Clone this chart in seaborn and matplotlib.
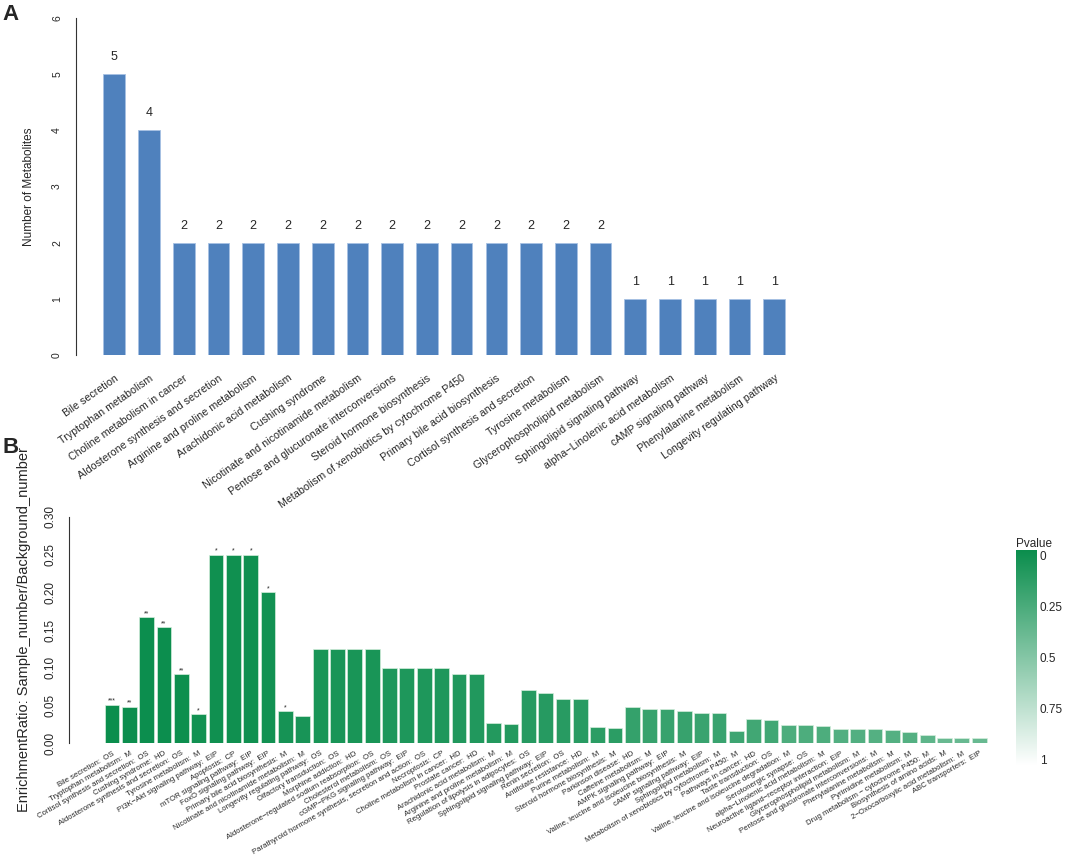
import numpy as np
import pandas as pd
import seaborn as sns
import matplotlib.pyplot as plt
from matplotlib.colors import LinearSegmentedColormap
from matplotlib.ticker import FormatStrFormatter

sns.set_style("white")
plt.rcParams['font.family'] = ['Liberation Sans', 'DejaVu Sans']

# Panel A: number of metabolites per pathway
pathways_a = ["Bile secretion", "Tryptophan metabolism", "Choline metabolism in cancer",
              "Aldosterone synthesis and secretion", "Arginine and proline metabolism",
              "Arachidonic acid metabolism", "Cushing syndrome",
              "Nicotinate and nicotinamide metabolism", "Pentose and glucuronate interconversions",
              "Steroid hormone biosynthesis", "Metabolism of xenobiotics by cytochrome P450",
              "Primary bile acid biosynthesis", "Cortisol synthesis and secretion",
              "Tyrosine metabolism", "Glycerophospholipid metabolism",
              "Sphingolipid signaling pathway", "alpha\u2212Linolenic acid metabolism",
              "cAMP signaling pathway", "Phenylalanine metabolism", "Longevity regulating pathway"]
counts_a = [5, 4, 2, 2, 2, 2, 2, 2, 2, 2, 2, 2, 2, 2, 2, 1, 1, 1, 1, 1]

# Panel B: enrichment ratio, class and p-value
pathways_b = ["Bile secretion", "Tryptophan metabolism", "Cortisol synthesis and secretion",
              "Cushing syndrome", "Aldosterone synthesis and secretion", "Tyrosine metabolism",
              "PI3K\u2212Akt signaling pathway", "Apoptosis", "mTOR signaling pathway",
              "FoxO signaling pathway", "Primary bile acid biosynthesis",
              "Nicotinate and nicotinamide metabolism", "Longevity regulating pathway",
              "Olfactory transduction", "Morphine addiction",
              "Aldosterone\u2212regulated sodium reabsorption", "Cholesterol metabolism",
              "cGMP\u2212PKG signaling pathway",
              "Parathyroid hormone synthesis, secretion and action", "Necroptosis",
              "Choline metabolism in cancer", "Prostate cancer", "Arachidonic acid metabolism",
              "Arginine and proline metabolism", "Regulation of lipolysis in adipocytes",
              "Sphingolipid signaling pathway", "Renin secretion", "Antifolate resistance",
              "Purine metabolism", "Steroid hormone biosynthesis", "Parkinson disease",
              "Caffeine metabolism", "AMPK signaling pathway",
              "Valine, leucine and isoleucine biosynthesis", "cAMP signaling pathway",
              "Sphingolipid metabolism", "Metabolism of xenobiotics by cytochrome P450",
              "Pathways in cancer", "Taste transduction",
              "Valine, leucine and isoleucine degradation", "Serotonergic synapse",
              "alpha\u2212Linolenic acid metabolism", "Neuroactive ligand\u2212receptor interaction",
              "Glycerophospholipid metabolism", "Pentose and glucuronate interconversions",
              "Phenylalanine metabolism", "Pyrimidine metabolism",
              "Drug metabolism \u2212 cytochrome P450", "Biosynthesis of amino acids",
              "2\u2212Oxocarboxylic acid metabolism", "ABC transporters"]
classes_b = ["OS", "M", "OS", "HD", "OS", "M", "EIP", "CP", "EIP", "EIP", "M", "M", "OS", "OS",
             "HD", "OS", "OS", "EIP", "OS", "CP", "HD", "HD", "M", "M", "OS", "EIP", "OS", "HD",
             "M", "M", "HD", "M", "EIP", "M", "EIP", "M", "M", "HD", "OS", "M", "OS", "M", "EIP",
             "M", "M", "M", "M", "M", "M", "M", "EIP"]
ratios_b = [0.051, 0.048, 0.167, 0.154, 0.091, 0.038, 0.25, 0.25, 0.25, 0.20, 0.042, 0.036,
            0.125, 0.125, 0.125, 0.125, 0.10, 0.10, 0.10, 0.10, 0.091, 0.091, 0.026, 0.025,
            0.071, 0.067, 0.059, 0.059, 0.021, 0.020, 0.048, 0.045, 0.045, 0.043, 0.040, 0.040,
            0.016, 0.032, 0.031, 0.024, 0.024, 0.023, 0.019, 0.019, 0.018, 0.017, 0.015, 0.011,
            0.007, 0.007, 0.007]
pvalues_b = [0.0008, 0.004, 0.005, 0.006, 0.009, 0.03, 0.02, 0.02, 0.02, 0.03, 0.045, 0.055,
             0.06, 0.06, 0.06, 0.06, 0.08, 0.08, 0.08, 0.08, 0.09, 0.09, 0.10, 0.10, 0.11, 0.11,
             0.12, 0.12, 0.13, 0.13, 0.17, 0.18, 0.18, 0.18, 0.19, 0.19, 0.21, 0.22, 0.22, 0.27,
             0.27, 0.27, 0.29, 0.29, 0.30, 0.30, 0.30, 0.34, 0.38, 0.38, 0.38]
stars_b = ["***", "**", "**", "**", "**", "*", "*", "*", "*", "*", "*"] + [""] * 40
pvalue_ticks = [0, 0.25, 0.5, 0.75, 1]

W, H = 1065, 856
fig = plt.figure(figsize=(W / 100, H / 100), dpi=100)

def px_axes(left, top, right, bottom):
    return fig.add_axes([left / W, 1 - bottom / H, (right - left) / W, (bottom - top) / H])

axis_col = "#333333"

# ---- A ----
axa = px_axes(76, 18, 800, 355)
sns.barplot(x=pathways_a, y=counts_a, color="#4F81BD", saturation=1, width=0.625,
            edgecolor="#A7C1E3", linewidth=0.6, ax=axa)
axa.bar_label(axa.containers[0], padding=8, fontsize=9)
axa.set_ylim(0, 6)
axa.set_xlim(-1.10, 19.74)
axa.set_yticks(range(7))
axa.set_xticks(range(len(pathways_a)))
axa.set_xticklabels(pathways_a, rotation=35, ha='right', va='top',
                    rotation_mode='anchor', fontsize=7.7)
axa.tick_params(axis='x', length=0, pad=13)
axa.tick_params(axis='y', length=6, width=0.8, color=axis_col, pad=4,
                labelsize=7.5, labelrotation=90)
for t in axa.get_yticklabels():
    t.set_va('center')
axa.set_ylabel("Number of Metabolites", fontsize=8.5, labelpad=12)
sns.despine(ax=axa, bottom=True)
axa.spines['left'].set_color(axis_col)
axa.spines['left'].set_linewidth(0.8)

# ---- B ----
cmap = LinearSegmentedColormap.from_list("pv", ["#0B8E4D", "#FFFFFF"])
colors_b = [cmap(p) for p in pvalues_b]
labels_b = [f"{p}:  {c}" for p, c in zip(pathways_b, classes_b)]

df_b = pd.DataFrame({"pathway": labels_b, "ratio": ratios_b})
axb = px_axes(69, 517, 1000, 743)
sns.barplot(data=df_b, x="pathway", y="ratio", hue="pathway", palette=colors_b,
            saturation=1, legend=False, width=0.85, edgecolor="#D5EEDD",
            linewidth=0.5, ax=axb)
for cont, s in zip(axb.containers, stars_b):
    axb.bar_label(cont, labels=[s], padding=0, fontsize=5)
axb.set_ylim(0, 0.30)
axb.set_xlim(-2.48, 51.2)
axb.set_yticks(np.arange(0, 0.31, 0.05))
axb.yaxis.set_major_formatter(FormatStrFormatter('%.2f'))
axb.set_xticks(range(len(labels_b)))
axb.set_xticklabels(labels_b, rotation=30, ha='right', va='top',
                    rotation_mode='anchor', fontsize=5.6)
axb.set_xlabel("")
axb.tick_params(axis='x', length=0, pad=5)
axb.tick_params(axis='y', length=5, width=0.8, color=axis_col, pad=4,
                labelsize=8.5, labelrotation=90)
for t in axb.get_yticklabels():
    t.set_va('center')
axb.set_ylabel("EnrichmentRatio: Sample_number/Background_number", fontsize=10.5, labelpad=10)
sns.despine(ax=axb, bottom=True)
axb.spines['left'].set_color(axis_col)
axb.spines['left'].set_linewidth(0.8)

# colour key (gradient from p = 0 at top to p = 1 at bottom)
cax = px_axes(1016, 550, 1037, 765)
grad = np.linspace(0, 1, 256)[:, None]
cax.imshow(grad, aspect='auto', cmap=cmap, vmin=0, vmax=1,
           extent=(0, 1, 1.025, -0.025))
cax.set_ylim(1.025, -0.025)
cax.set_xticks([])
cax.yaxis.tick_right()
cax.set_yticks(pvalue_ticks)
cax.set_yticklabels(["0", "0.25", "0.5", "0.75", "1"])
cax.tick_params(length=0, labelsize=8.5, pad=2)
for sp in cax.spines.values():
    sp.set_visible(False)
cax.set_title("Pvalue", loc='left', fontsize=8.5, pad=2)

fig.text(2 / W, 1 - 4 / H, "A", fontsize=16, fontweight='bold', ha='left', va='top')
fig.text(2 / W, 1 - 437 / H, "B", fontsize=16, fontweight='bold', ha='left', va='top')

fig.savefig("out.png", dpi=100)
